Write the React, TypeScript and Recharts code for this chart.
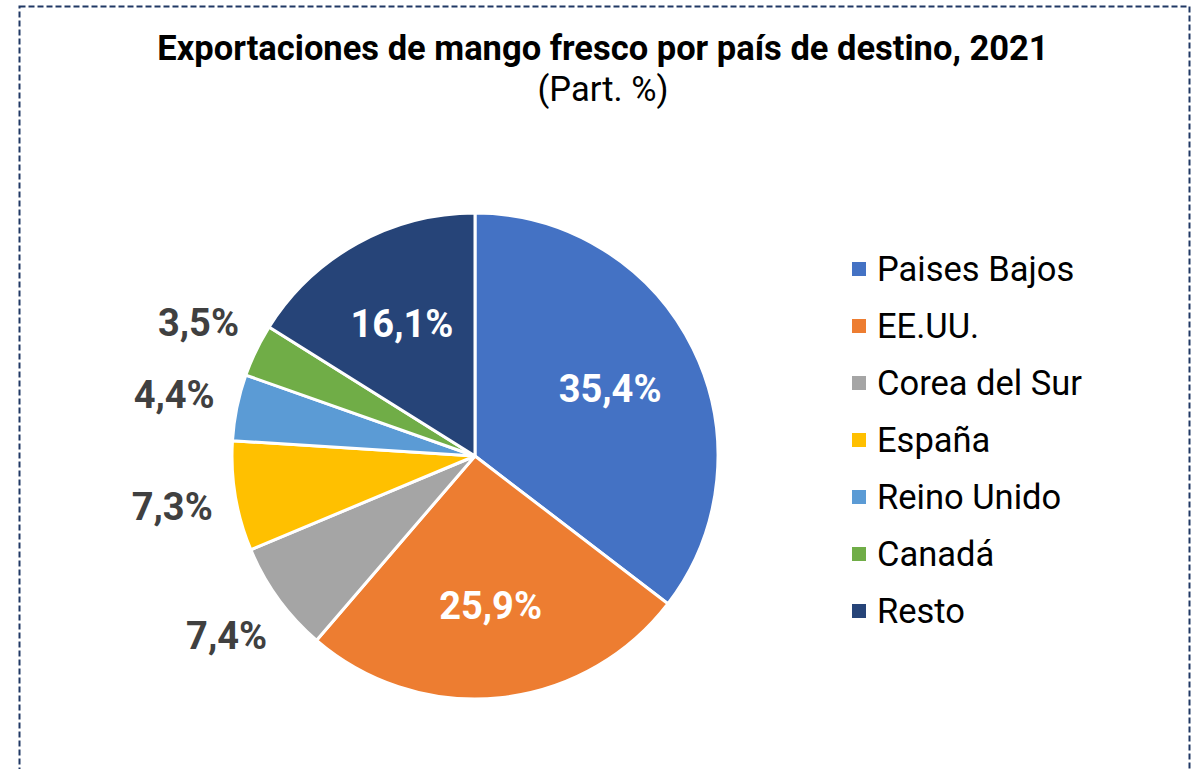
import React from 'react';
import { PieChart, Pie, Cell, Legend } from 'recharts';

const countries = ['Paises Bajos', 'EE.UU.', 'Corea del Sur', 'España', 'Reino Unido', 'Canadá', 'Resto'];
const shares = [35.4, 25.9, 7.4, 7.3, 4.4, 3.5, 16.1];
const colors = ['#4472C4', '#ED7D31', '#A5A5A5', '#FFC000', '#5B9BD5', '#70AD47', '#264478'];

const data = countries.map((name, i) => ({ name, value: shares[i] }));

const RADIAN = Math.PI / 180;
const FONT = 'Roboto, "Noto Sans", sans-serif';

const renderLabel = (props: any) => {
  const { cx, cy, midAngle, outerRadius, value } = props;
  const inside = value >= 10;
  const r = inside ? outerRadius * 0.62 : outerRadius + 64;
  const x = cx + r * Math.cos(-midAngle * RADIAN);
  const y = cy + r * Math.sin(-midAngle * RADIAN);
  return (
    <text
      x={x}
      y={y}
      textAnchor="middle"
      dominantBaseline="central"
      fill={inside ? '#ffffff' : '#404040'}
      fontSize={38}
      fontWeight="bold"
      fontFamily={FONT}
    >
      {value.toFixed(1).replace('.', ',') + '%'}
    </text>
  );
};

// legend kept in the data order (recharts would sort it by name)
const renderLegend = () => (
  <div style={{ fontFamily: FONT }}>
    {countries.map((name, i) => (
      <div key={name} style={{ display: 'flex', alignItems: 'center', height: 57 }}>
        <div style={{ width: 14, height: 14, background: colors[i], marginRight: 11 }} />
        <span style={{ fontSize: 34.5, color: '#000000' }}>{name}</span>
      </div>
    ))}
  </div>
);

export default function App() {
  return (
    <div style={{ position: 'absolute', left: 0, top: 0, width: 1198, height: 769, background: '#fff', overflow: 'hidden' }}>
      <PieChart width={1198} height={769} margin={{ top: 0, right: 0, bottom: 0, left: 0 }}>
        <Pie
          data={data}
          dataKey="value"
          nameKey="name"
          cx={475}
          cy={456}
          outerRadius={243}
          startAngle={90}
          endAngle={-270}
          stroke="#ffffff"
          strokeWidth={3}
          label={renderLabel}
          labelLine={false}
          isAnimationActive={false}
        >
          {data.map((d, i) => (
            <Cell key={d.name} fill={colors[i]} />
          ))}
        </Pie>
        <Legend
          layout="vertical"
          content={renderLegend}
          wrapperStyle={{ left: 852, top: 240, width: 340 }}
        />
      </PieChart>
      <svg width={1198} height={769} style={{ position: 'absolute', left: 0, top: 0, pointerEvents: 'none' }}>
        <rect x={19.5} y={6.5} width={1170} height={820} fill="none" stroke="#203864" strokeWidth={2} strokeDasharray="6 3" />
        <text x={603} y={60} textAnchor="middle" fontSize={34.5} fontWeight="bold" fontFamily={FONT} fill="#000">
          Exportaciones de mango fresco por país de destino, 2021
        </text>
        <text x={603} y={101} textAnchor="middle" fontSize={34.5} fontFamily={FONT} fill="#000">
          (Part. %)
        </text>
      </svg>
    </div>
  );
}
